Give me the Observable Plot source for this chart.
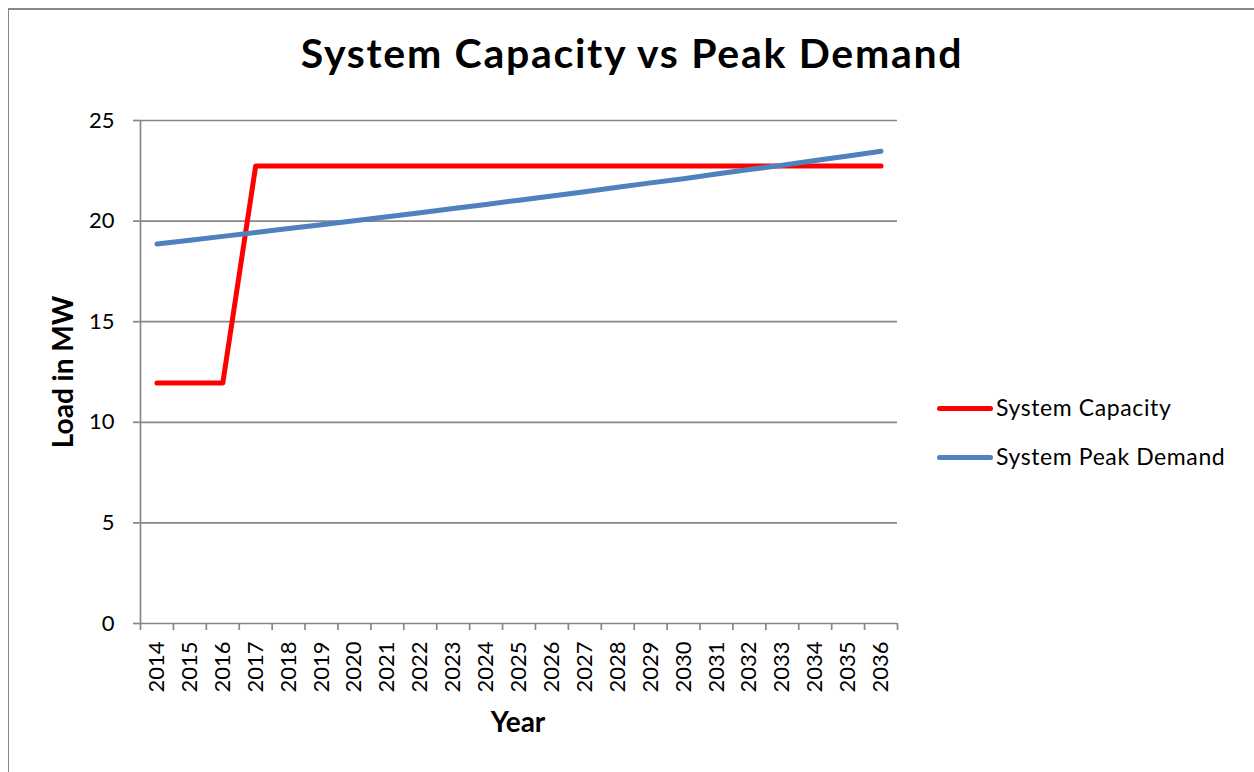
<!DOCTYPE html>
<html>
<head>
<meta charset="utf-8">
<script src="https://cdn.jsdelivr.net/npm/d3@7"></script>
<script src="https://cdn.jsdelivr.net/npm/@observablehq/plot@0.6"></script>
<style>
  body { margin: 0; background: #fff; font-family: Lato, "Open Sans", sans-serif; }
  #wrap { position: relative; width: 1254px; height: 772px; overflow: hidden; background: #fff; }
  #frame { position: absolute; left: 8px; top: 8px; width: 1400px; height: 900px;
           border-left: 1.5px solid #888; border-top: 2px solid #888; box-sizing: border-box; }
  #chart { position: absolute; left: 0; top: 0; }
  .t { position: absolute; white-space: nowrap; color: #000; line-height: 1; }
  .title { font-size: 41px; font-weight: 700; letter-spacing: 1.7px; left: 0; width: 1264px; text-align: center; top: 32px; }
  .xlab { font-size: 28px; font-weight: 700; left: 0; width: 1036px; text-align: center; top: 707px; }
  .ylab { font-size: 28px; font-weight: 700; left: 62px; top: 372px; transform: translate(-50%, -50%) rotate(-90deg); }
  .leg { position: absolute; left: 937px; font-size: 23px; letter-spacing: 0.6px; line-height: 1; white-space: nowrap; color: #000; }
  .leg .sw { position: absolute; left: 0; width: 56px; height: 5px; border-radius: 3px; }
  .leg .lbl { position: absolute; left: 59px; top: 0; }
</style>
</head>
<body>
<div id="wrap">
  <div id="frame"></div>
  <div id="chart"></div>
  <div class="t title">System Capacity vs Peak Demand</div>
  <div class="t ylab">Load in MW</div>
  <div class="t xlab">Year</div>
  <div id="legend"></div>
</div>
<script>
// ---- data ----
const years = [2014, 2015, 2016, 2017, 2018, 2019, 2020, 2021, 2022, 2023, 2024, 2025,
               2026, 2027, 2028, 2029, 2030, 2031, 2032, 2033, 2034, 2035, 2036];
const systemCapacity = [11.95, 11.95, 11.95, 22.74, 22.74, 22.74, 22.74, 22.74, 22.74, 22.74, 22.74, 22.74,
                        22.74, 22.74, 22.74, 22.74, 22.74, 22.74, 22.74, 22.74, 22.74, 22.74, 22.74];
const systemPeakDemand = [18.86, 19.05, 19.24, 19.43, 19.63, 19.82, 20.02, 20.22, 20.42, 20.63, 20.83, 21.04,
                          21.25, 21.46, 21.68, 21.90, 22.11, 22.34, 22.56, 22.78, 23.01, 23.24, 23.47];
const seriesNames = ["System Capacity", "System Peak Demand"];
const seriesColors = ["#FF0000", "#4F81BD"];
const yTicks = [0, 5, 10, 15, 20, 25];

// ---- build table ----
const rows = years.flatMap((yr, i) => [
  {year: yr, series: seriesNames[0], value: systemCapacity[i]},
  {year: yr, series: seriesNames[1], value: systemPeakDemand[i]}
]);
const xDomain = [years[0] - 0.5, years[years.length - 1] + 0.5];
const boundaries = [...years.map(y => y - 0.5), years[years.length - 1] + 0.5];
const gridColor = "#878787";

const chart = Plot.plot({
  width: 1254,
  height: 772,
  marginLeft: 140,
  marginRight: 357,
  marginTop: 120,
  marginBottom: 149,
  style: {fontFamily: "Lato, 'Open Sans', sans-serif", fontSize: "22px", color: "#000", background: "transparent"},
  x: {type: "linear", domain: xDomain},
  y: {domain: [yTicks[0], yTicks[yTicks.length - 1]]},
  color: {domain: seriesNames, range: seriesColors},
  marks: [
    Plot.ruleY(yTicks.filter(d => d > 0), {stroke: gridColor, strokeWidth: 1.7}),
    Plot.ruleX([xDomain[0]], {stroke: gridColor, strokeWidth: 1.7}),
    Plot.ruleY([yTicks[0]], {stroke: gridColor, strokeWidth: 1.7}),
    Plot.axisY({ticks: yTicks, tickSize: 7, tickPadding: 19, stroke: gridColor, strokeWidth: 1.7,
                fill: "#000", label: null, tickFormat: d => String(d)}),
    Plot.axisX({ticks: boundaries, tickSize: 7, stroke: gridColor, strokeWidth: 1.7,
                tickFormat: () => "", label: null}),
    Plot.axisX({ticks: years, tickSize: 0, tickPadding: 18, tickRotate: -90, fill: "#000",
                tickFormat: d => String(d), label: null}),
    Plot.lineY(rows, {x: "year", y: "value", z: "series", stroke: "series", strokeWidth: 5,
                      strokeLinecap: "round", strokeLinejoin: "round"})
  ]
});
document.getElementById("chart").appendChild(chart);

// ---- legend ----
const legend = document.getElementById("legend");
const legTops = [396, 445];
seriesNames.forEach((name, i) => {
  const item = document.createElement("div");
  item.className = "leg";
  item.style.top = legTops[i] + "px";
  item.innerHTML = `<span class="sw" style="background:${seriesColors[i]};top:10px"></span><span class="lbl">${name}</span>`;
  legend.appendChild(item);
});
</script>
</body>
</html>
